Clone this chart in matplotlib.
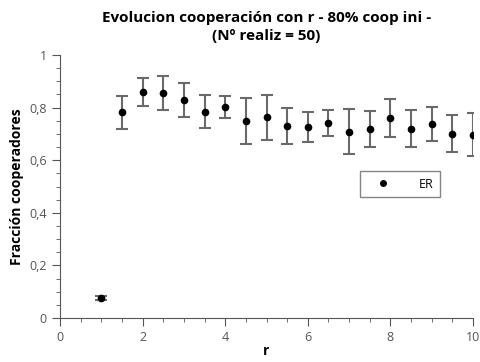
import matplotlib
matplotlib.use("Agg")
import matplotlib.pyplot as plt
from matplotlib.lines import Line2D
from matplotlib.ticker import MultipleLocator, FuncFormatter

plt.rcParams['font.family'] = ['Open Sans', 'DejaVu Sans']

# fraccion de cooperadores vs r (media y desviacion sobre 50 realizaciones)
r_vals = [1, 1.5, 2, 2.5, 3, 3.5, 4, 4.5, 5, 5.5, 6, 6.5, 7, 7.5, 8, 8.5, 9, 9.5, 10]
frac_coop = [0.076, 0.783, 0.859, 0.855, 0.829, 0.785, 0.803, 0.749, 0.763, 0.730,
             0.727, 0.742, 0.709, 0.718, 0.759, 0.719, 0.738, 0.701, 0.697]
err_coop = [0.007, 0.063, 0.052, 0.066, 0.066, 0.063, 0.043, 0.086, 0.085, 0.067,
            0.058, 0.050, 0.085, 0.068, 0.072, 0.070, 0.064, 0.070, 0.082]

fig = plt.figure(figsize=(4.81, 3.62), dpi=100)
ax = fig.add_axes([60 / 481, 44 / 362, 413 / 481, 263 / 362])

ax.errorbar(r_vals, frac_coop, yerr=err_coop, fmt='o', color='black', ms=4.5,
            ecolor='#6a6a6a', elinewidth=1.5, capsize=4, capthick=1.5)

ax.set_xlim(0, 10)
ax.set_ylim(0, 1)
ax.xaxis.set_major_locator(MultipleLocator(2))
ax.xaxis.set_minor_locator(MultipleLocator(0.5))
ax.yaxis.set_major_locator(MultipleLocator(0.2))
ax.yaxis.set_minor_locator(MultipleLocator(0.05))
ax.yaxis.set_major_formatter(FuncFormatter(lambda v, p: ('%g' % round(v, 2)).replace('.', ',')))

for s in ['top', 'right']:
    ax.spines[s].set_visible(False)
for s in ['left', 'bottom']:
    ax.spines[s].set_color('#555555')
ax.tick_params(which='major', length=6, color='#555555', labelsize=9, labelcolor='#555555')
ax.tick_params(which='minor', length=3, color='#555555')

ax.set_xlabel('r', fontsize=10, fontweight='bold', labelpad=0)
ax.set_ylabel('Fracción cooperadores', fontsize=10, fontweight='bold', labelpad=4)
ax.set_title('Evolucion cooperación con r - 80% coop ini -\n(Nº realiz = 50)',
             fontsize=11, fontweight='bold', pad=11, linespacing=1.35)

er_handle = Line2D([], [], marker='o', ls='', color='black', ms=4)
leg = ax.legend(handles=[er_handle], labels=['ER'], loc='upper left',
                bbox_to_anchor=(0.727, 0.56), frameon=True, fancybox=False,
                edgecolor='#666666', fontsize=9, handlelength=2.6,
                handletextpad=1.5, borderpad=0.55, borderaxespad=0)
leg.get_frame().set_linewidth(1)

fig.savefig('out.png', dpi=100)
